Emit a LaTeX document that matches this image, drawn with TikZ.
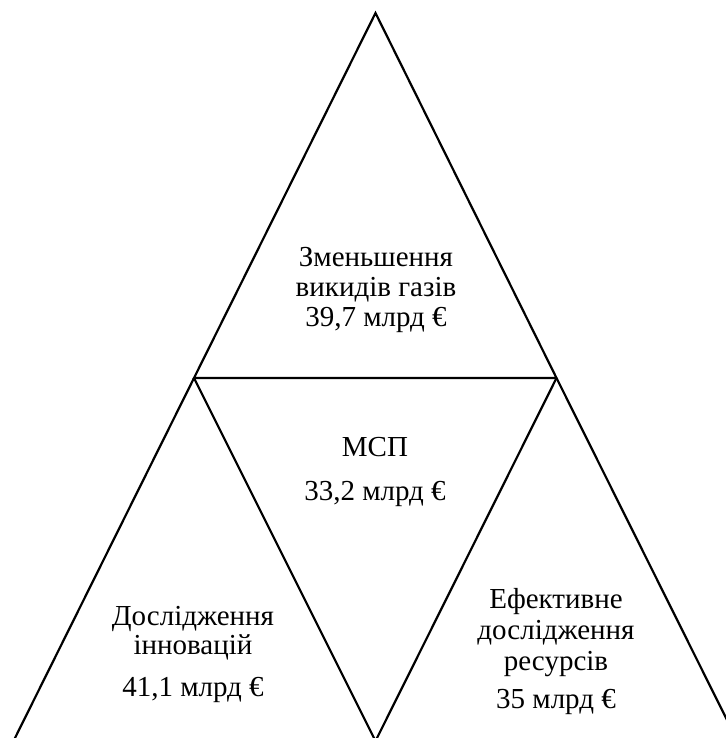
\documentclass[tikz,border=0pt]{standalone}
\usepackage{fontspec}
\setmainfont{Liberation Serif}
\newfontfamily\tnr{Liberation Serif}
\begin{document}
\begin{tikzpicture}[x=1bp,y=-1bp,
  tri/.style={draw=black,line width=2.2bp,line join=miter},
  lbl/.style={anchor=base,inner sep=0pt,font=\tnr\fontsize{29bp}{32bp}\selectfont}]
\useasboundingbox (0,0) rectangle (726,738);
\clip (0,0) rectangle (726,738);
\coordinate (A) at (375.5,13);
\coordinate (L) at (194,378);
\coordinate (R) at (556.5,378);
\coordinate (M) at (375.5,741);
\coordinate (BL) at (12.5,743);
\coordinate (BR) at (738.5,743);
\draw[tri] (A) -- (L) -- (R) -- cycle;
\draw[tri] (L) -- (M) -- (R);
\draw[tri] (L) -- (BL);
\draw[tri] (R) -- (BR);
% top
\node[lbl] (t1) at (376,266.5) {Зменьшення};
\node[lbl] (t2) at (376,296.5) {викидів газів};
\node[lbl] (t3) at (376,326.5) {39,7 млрд €};
% middle
\node[lbl] (m1) at (375,456.5) {МСП};
\node[lbl] (m2) at (375,500) {33,2 млрд €};
% left
\node[lbl] (l1) at (193,625) {Дослідження};
\node[lbl] (l2) at (193,654) {інновацій};
\node[lbl] (l3) at (193,696.5) {41,1 млрд €};
% right
\node[lbl] (r1) at (556,608) {Ефективне};
\node[lbl] (r2) at (556,639) {дослідження};
\node[lbl] (r3) at (556,670) {ресурсів};
\node[lbl] (r4) at (556,708) {35 млрд €};
\end{tikzpicture}
\end{document}
